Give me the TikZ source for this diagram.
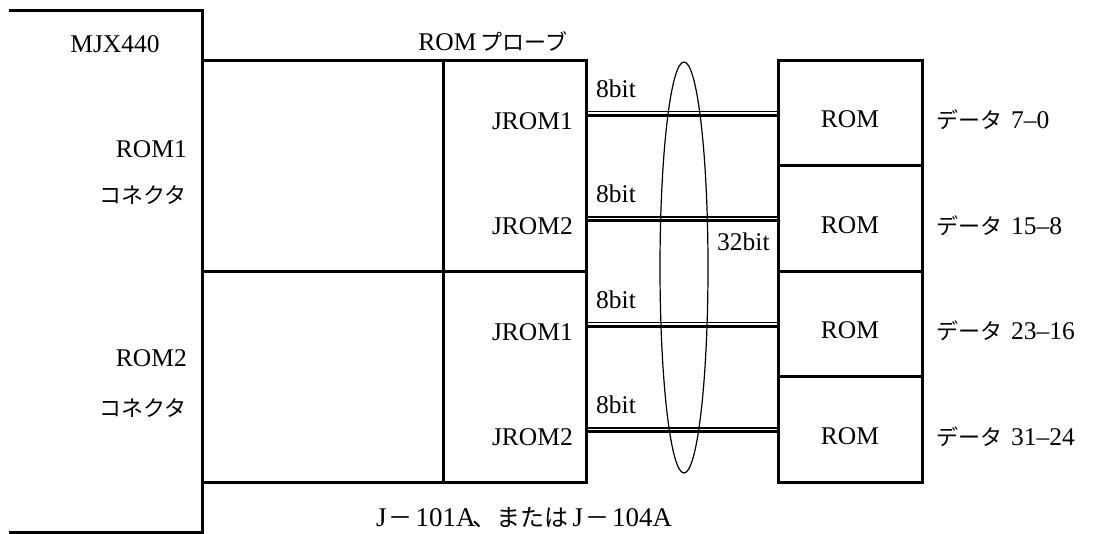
\documentclass[tikz,border=0pt]{standalone}
\usepackage{fontspec}
\setmainfont{Liberation Serif}
\newfontfamily\jp{Noto Sans CJK JP}
\usetikzlibrary{shapes.geometric}
\newcommand\jpb[1]{{\jp\fontsize{24}{28}\selectfont #1}}
\begin{document}
\begin{tikzpicture}[x=1pt,y=-1pt,
  boxline/.style={line width=3pt},
  rombox/.style={draw,line width=3pt,minimum width=144pt,minimum height=105.5pt,inner sep=0pt},
  lbl/.style={inner sep=0pt,font=\fontsize{25.5}{28}\selectfont},
  jlbl/.style={inner sep=0pt,font=\fontsize{22}{26}\selectfont\jp},
  busthin/.style={line width=1.6pt},
  busthick/.style={line width=3.2pt},
  bundle/.style={draw,ellipse,line width=1.2pt,minimum width=48pt,minimum height=411pt,inner sep=0pt}
]
\useasboundingbox (0,0) rectangle (1095,533);
% MJX440 box (open at the left)
\coordinate (m1) at (9,10);
\coordinate (m2) at (202,10);
\coordinate (m3) at (202,532);
\coordinate (m4) at (9,532);
\draw[boxline] (m1) -- (m2) -- (m3) -- (m4);
\node[lbl,anchor=base] (mjx) at (115,52) {MJX440};
\node[lbl,anchor=base east] (rom1c) at (187,157) {ROM1};
\node[jlbl,anchor=base east] (con1) at (187,203) {コネクタ};
\node[lbl,anchor=base east] (rom2c) at (187,366) {ROM2};
\node[jlbl,anchor=base east] (con2) at (187,416) {コネクタ};
% ROM probe
\coordinate (p1) at (202,60);
\coordinate (p2) at (586,482);
\draw[boxline] (p1) rectangle (p2);
\draw[boxline] (443,60) -- (443,482);
\draw[boxline] (202,271) -- (586,271);
\node[lbl,anchor=base] (probe) at (493,50) {ROM\,{\jp\fontsize{22}{26}\selectfont プローブ}};
% ROM boxes, lines, labels
\foreach \i/\ly/\jr/\dt in {1/111.5/JROM1/{7–0},2/217/JROM2/{15–8},3/322.5/JROM1/{23–16},4/428/JROM2/{31–24}}{
  \pgfmathsetmacro\cy{60+105.5*(\i-1)+52.75}
  \node[rombox] (rom\i) at (850,\cy) {};
  \coordinate (pl\i) at (586,\ly);
  \coordinate (pr\i) at (rom\i.west |- pl\i);
  \draw[busthin] (pl\i) -- (pr\i);
  \draw[busthick] ([yshift=-3.6pt]pl\i) -- ([yshift=-3.6pt]pr\i);
  \node[lbl,anchor=base east] (jrom\i) at (573,\ly+17.5) {\jr};
  \node[lbl,anchor=base west] (bit\i) at (596,\ly-14.5) {8bit};
  \node[lbl,anchor=base] (romt\i) at (850,\ly+16) {ROM};
  \node[lbl,anchor=base west] (data\i) at (936,\ly+17) {{\jp\fontsize{22}{26}\selectfont データ}\hspace{9pt}\dt};
}
\node[bundle] (bus) at (684,267.5) {};
\node[lbl,anchor=base west] (b32) at (717,250) {32bit};
\node[inner sep=0pt,anchor=base west,font=\fontsize{27}{32}\selectfont] (jnote) at (376,526) {J\hspace{2pt}\jpb{－}\hspace{3pt}101A\hspace{-3pt}\jpb{、または}\hspace{4pt}J\hspace{2pt}\jpb{－}\hspace{3pt}104A};
\end{tikzpicture}
\end{document}
